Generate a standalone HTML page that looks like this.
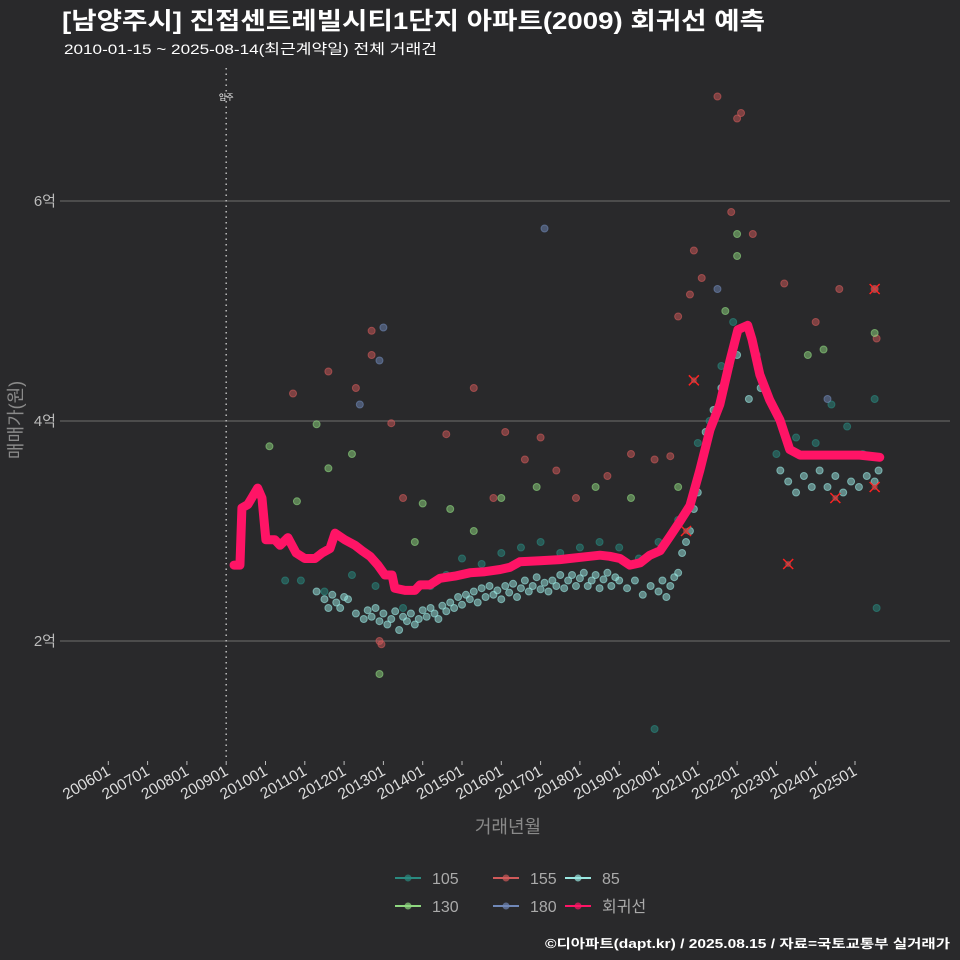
<!DOCTYPE html>
<html><head><meta charset="utf-8">
<style>
body{margin:0;background:#29292b;}
svg{display:block;font-family:"Liberation Sans","Noto Sans CJK KR",sans-serif;}
</style></head>
<body>
<svg id="chart" width="960" height="960" viewBox="0 0 960 960" xmlns="http://www.w3.org/2000/svg">
<rect width="960" height="960" fill="#29292b"/>
<text x="62" y="29" fill="#ffffff" font-size="24" font-weight="bold" textLength="703" lengthAdjust="spacingAndGlyphs">[남양주시] 진접센트레빌시티1단지 아파트(2009) 회귀선 예측</text>
<text x="64" y="54" fill="#ffffff" font-size="14" textLength="373" lengthAdjust="spacingAndGlyphs">2010-01-15 ~ 2025-08-14(최근계약일) 전체 거래건</text>
<text transform="translate(22,420) rotate(-90)" text-anchor="middle" fill="#8a8a8a" font-size="18">매매가(원)</text>
<text x="508" y="833" text-anchor="middle" fill="#8a8a8a" font-size="18">거래년월</text>
<g id="grid"></g><g id="axes"></g><g id="marks"></g>
<g id="legend"></g>
<text x="950" y="948" text-anchor="end" fill="#ffffff" font-size="12.5" font-weight="bold" textLength="405" lengthAdjust="spacingAndGlyphs">©디아파트(dapt.kr) / 2025.08.15 / 자료=국토교통부 실거래가</text>
</svg>
<script>
const yTicks=[2,4,6];
const yTickLabels=["2억","4억","6억"];
const xTickYears=[2006,2007,2008,2009,2010,2011,2012,2013,2014,2015,2016,2017,2018,2019,2020,2021,2022,2023,2024,2025];
const xTickLabels=["200601","200701","200801","200901","201001","201101","201201","201301","201401","201501","201601","201701","201801","201901","202001","202101","202201","202301","202401","202501"];
const moveInYear=2009;
const s85=[[2011.3,2.45],[2011.5,2.38],[2011.6,2.3],[2011.7,2.42],[2011.8,2.35],[2011.9,2.3],[2012.0,2.4],[2012.1,2.38],[2012.3,2.25],[2012.5,2.2],[2012.6,2.28],[2012.7,2.22],[2012.8,2.3],[2012.9,2.18],[2013.0,2.25],[2013.1,2.15],[2013.2,2.2],[2013.3,2.27],[2013.4,2.1],[2013.5,2.22],[2013.6,2.18],[2013.7,2.25],[2013.8,2.15],[2013.9,2.2],[2014.0,2.28],[2014.1,2.22],[2014.2,2.3],[2014.3,2.25],[2014.4,2.2],[2014.5,2.32],[2014.6,2.27],[2014.7,2.35],[2014.8,2.3],[2014.9,2.4],[2015.0,2.33],[2015.1,2.42],[2015.2,2.38],[2015.3,2.45],[2015.4,2.35],[2015.5,2.48],[2015.6,2.4],[2015.7,2.5],[2015.8,2.42],[2015.9,2.46],[2016.0,2.38],[2016.1,2.5],[2016.2,2.44],[2016.3,2.52],[2016.4,2.4],[2016.5,2.48],[2016.6,2.55],[2016.7,2.45],[2016.8,2.5],[2016.9,2.58],[2017.0,2.47],[2017.1,2.53],[2017.2,2.45],[2017.3,2.55],[2017.4,2.5],[2017.5,2.6],[2017.6,2.48],[2017.7,2.55],[2017.8,2.6],[2017.9,2.5],[2018.0,2.57],[2018.1,2.62],[2018.2,2.5],[2018.3,2.55],[2018.4,2.6],[2018.5,2.48],[2018.6,2.56],[2018.7,2.62],[2018.8,2.5],[2018.9,2.58],[2019.0,2.55],[2019.2,2.48],[2019.4,2.55],[2019.6,2.42],[2019.8,2.5],[2020.0,2.45],[2020.1,2.55],[2020.2,2.4],[2020.3,2.5],[2020.4,2.58],[2020.5,2.62],[2020.6,2.8],[2020.7,2.9],[2020.8,3.0],[2020.9,3.2],[2021.0,3.35],[2021.2,3.9],[2021.4,4.1],[2021.6,4.3],[2021.8,4.5],[2022.0,4.6],[2022.3,4.2],[2022.6,4.3],[2023.1,3.55],[2023.3,3.45],[2023.5,3.35],[2023.7,3.5],[2023.9,3.4],[2024.1,3.55],[2024.3,3.4],[2024.5,3.5],[2024.7,3.35],[2024.9,3.45],[2025.1,3.4],[2025.3,3.5],[2025.5,3.45],[2025.6,3.55]];
const s105=[[2010.5,2.55],[2010.9,2.55],[2011.5,2.45],[2012.2,2.6],[2012.8,2.5],[2013.5,2.3],[2014.2,2.5],[2014.6,2.6],[2015.0,2.75],[2015.5,2.7],[2016.0,2.8],[2016.5,2.85],[2017.0,2.9],[2017.5,2.8],[2018.0,2.85],[2018.5,2.9],[2019.0,2.85],[2019.5,2.75],[2020.0,2.9],[2020.5,3.1],[2021.0,3.8],[2021.3,4.0],[2021.6,4.5],[2021.9,4.9],[2022.5,4.6],[2023.0,3.7],[2023.5,3.85],[2024.0,3.8],[2024.4,4.15],[2024.8,3.95],[2025.2,3.7],[2025.5,4.2],[2025.55,2.3],[2019.9,1.2]];
const s155=[[2010.7,4.25],[2011.6,4.45],[2012.3,4.3],[2012.7,4.82],[2012.7,4.6],[2013.2,3.98],[2013.5,3.3],[2014.6,3.88],[2015.3,4.3],[2015.8,3.3],[2016.1,3.9],[2016.6,3.65],[2017.0,3.85],[2017.4,3.55],[2017.9,3.3],[2018.7,3.5],[2019.3,3.7],[2019.9,3.65],[2020.3,3.68],[2020.5,4.95],[2020.8,5.15],[2020.9,5.55],[2021.1,5.3],[2021.5,6.95],[2021.85,5.9],[2022.0,6.75],[2022.1,6.8],[2022.4,5.7],[2023.2,5.25],[2024.0,4.9],[2024.6,5.2],[2025.5,5.2],[2025.55,4.75],[2012.9,2.0],[2012.95,1.97]];
const s130=[[2010.1,3.77],[2010.8,3.27],[2011.3,3.97],[2011.6,3.57],[2012.2,3.7],[2013.8,2.9],[2014.0,3.25],[2014.7,3.2],[2015.3,3.0],[2016.0,3.3],[2016.9,3.4],[2018.4,3.4],[2019.3,3.3],[2020.5,3.4],[2021.7,5.0],[2022.0,5.5],[2022.0,5.7],[2023.8,4.6],[2024.2,4.65],[2025.5,4.8],[2012.9,1.7]];
const s180=[[2013.0,4.85],[2012.9,4.55],[2017.1,5.75],[2012.4,4.15],[2021.5,5.2],[2024.3,4.2]];
const outliers=[[2020.9,4.37],[2020.7,3.0],[2023.3,2.7],[2024.5,3.3],[2025.5,5.2],[2025.5,3.4]];
const regYears=[2009.2,2009.35,2009.4,2009.55,2009.65,2009.8,2009.91,2010.01,2010.24,2010.37,2010.57,2010.78,2011.0,2011.26,2011.44,2011.64,2011.77,2012.02,2012.28,2012.46,2012.66,2012.86,2013.04,2013.22,2013.29,2013.55,2013.8,2013.93,2014.18,2014.44,2014.82,2015.2,2015.58,2015.97,2016.22,2016.47,2016.98,2017.49,2017.74,2018.25,2018.51,2018.76,2019.02,2019.27,2019.53,2019.78,2020.04,2020.29,2020.55,2020.8,2021.05,2021.31,2021.56,2021.82,2022.02,2022.27,2022.38,2022.58,2022.83,2023.09,2023.34,2023.6,2024.11,2024.61,2025.12,2025.63];
const regValues=[2.69,2.69,3.21,3.24,3.3,3.39,3.3,2.92,2.92,2.87,2.94,2.8,2.75,2.75,2.8,2.84,2.98,2.92,2.87,2.82,2.77,2.69,2.6,2.6,2.48,2.46,2.46,2.51,2.51,2.57,2.59,2.62,2.63,2.65,2.67,2.72,2.73,2.74,2.75,2.77,2.78,2.77,2.75,2.69,2.71,2.78,2.82,2.95,3.09,3.23,3.55,3.92,4.15,4.55,4.83,4.87,4.74,4.42,4.19,4.01,3.74,3.69,3.69,3.69,3.69,3.67];

const NS="http://www.w3.org/2000/svg";
const X=y=>108.3+(y-2006)*39.3;
const Y=v=>641-(v-2)*110;
function mk(tag,attrs,parent){const e=document.createElementNS(NS,tag);for(const k in attrs)e.setAttribute(k,attrs[k]);parent.appendChild(e);return e;}
const grid=document.getElementById('grid'),axes=document.getElementById('axes'),marks=document.getElementById('marks'),legend=document.getElementById('legend');
yTicks.forEach((v,i)=>{
  const l=mk('line',{x1:60,x2:950,y1:Y(v),y2:Y(v),stroke:'#6e6e6e','stroke-width':1},grid);
  
  
  const t=mk('text',{x:56,y:Y(v)+5,'text-anchor':'end',fill:'#bbbbbb','font-size':15},axes);
  t.textContent=yTickLabels[i];
  
  
});
xTickYears.forEach((yr,i)=>{
  const x=X(yr);
  const tk=mk('line',{x1:x,x2:x,y1:761,y2:765,stroke:'#bbbbbb'},axes);
  
  
  const t=mk('text',{transform:`translate(${x+3},774) rotate(-30)`,'text-anchor':'end',fill:'#dddddd','font-size':15.5},axes);
  t.textContent=xTickLabels[i];
  
  
});
const mv=mk('line',{x1:X(moveInYear),x2:X(moveInYear),y1:68,y2:760,stroke:'#bbbbbb','stroke-dasharray':'1.5,4','stroke-width':1.5},grid);


const mt=mk('text',{x:X(moveInYear),y:100,'text-anchor':'middle',fill:'#ffffff','font-size':8},grid);
mt.textContent='입주';



const series=[[s105,'#2a8a80','105'],[s155,'#d05a5a','155'],[s130,'#8fd880','130'],[s180,'#7088b8','180'],[s85,'#9ae8e2','85']];
series.forEach(([data,col,name])=>{
  data.forEach(d=>{
    const c=mk('circle',{cx:X(d[0]),cy:Y(d[1]),r:3.5,fill:col,'fill-opacity':0.5,stroke:col,'stroke-opacity':0.6},marks);
    
    
  });
});
outliers.forEach(d=>{
  const x=X(d[0]),y=Y(d[1]);
  const g=mk('path',{d:`M${x-5},${y-5}L${x+5},${y+5}M${x-5},${y+5}L${x+5},${y-5}`,stroke:'#ff2020','stroke-width':1.5},marks);
  
  
  const c=mk('circle',{cx:x,cy:y,r:3,fill:'#c05050','fill-opacity':0.6},marks);
  
  
});
const pts=regYears.map((y,i)=>X(y)+','+Y(regValues[i])).join(' ');
const rl=mk('polyline',{points:pts,fill:'none',stroke:'#ff1466','stroke-width':9,'stroke-linejoin':'round','stroke-linecap':'round'},marks);



const leg=[['105','#2a8a80',398,878],['155','#d05a5a',496,878],['85','#9ae8e2',568,878],['130','#8fd880',398,906],['180','#7088b8',496,906],['회귀선','#ff1466',568,906]];
leg.forEach(([lab,col,x,y])=>{
  const g=mk('g',{},legend);
  
  
  mk('line',{x1:x-3,x2:x+23,y1:y,y2:y,stroke:col,'stroke-width':2},g);
  mk('circle',{cx:x+10,cy:y,r:3.5,fill:col,'fill-opacity':0.7},g);
  const t=mk('text',{x:x+34,y:y+6,fill:'#aaaaaa','font-size':16},g);
  t.textContent=lab;
});
</script>
</body></html>
